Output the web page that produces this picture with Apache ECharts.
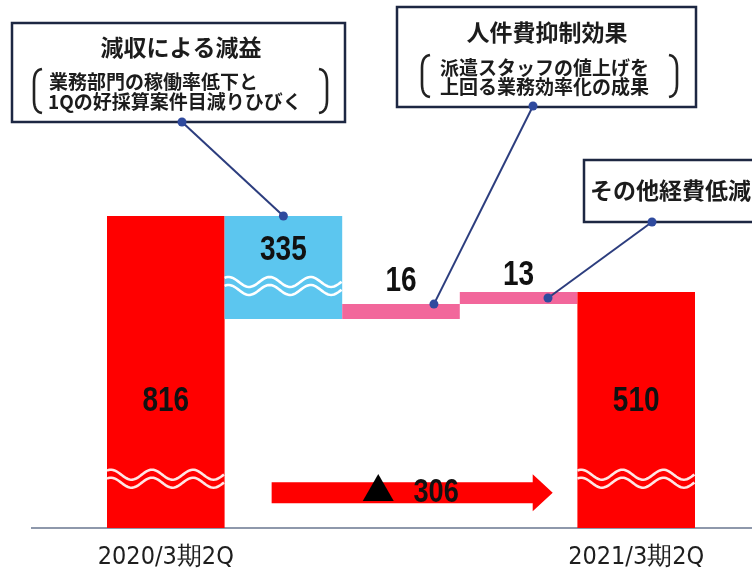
<!DOCTYPE html>
<html>
<head>
<meta charset="utf-8">
<script src="https://cdn.jsdelivr.net/npm/echarts@6/dist/echarts.min.js"></script>
<style>
  html, body { margin: 0; padding: 0; background: #fff; }
  #chart { width: 752px; height: 574px; }
</style>
</head>
<body>
<div id="chart"></div>
<script>
// Operating profit bridge: 2020/3期2Q -> 2021/3期2Q
const categories = ['2020/3期2Q', '減収による減益', '人件費抑制効果', 'その他経費低減', '2021/3期2Q'];
const startValue = 816;
const changes = [-335, 16, 13];
const endValue = 510;
const axisLabels = ['2020/3期2Q', '', '', '', '2021/3期2Q'];

// Callout texts
const calloutTitles = ['減収による減益', '人件費抑制効果', 'その他経費低減'];
const calloutLines = [
  ['業務部門の稼働率低下と', '1Qの好採算案件目減りひびく'],
  ['派遣スタッフの値上げを', '上回る業務効率化の成果'],
  []
];

// Compressed stretches of the value axis
const axisBreaks = [
  { start: 53, end: 309.3, gap: 0 },
  { start: 516.5, end: 740.8, gap: 0 }
];
// Which bar shows which break as a wave: [bar index, break index]
const waveMarks = [[0, 0], [1, 1], [4, 0]];

// ---- waterfall geometry from the values ----
const bases = [0];
const heights = [startValue];
let running = startValue;
changes.forEach(c => {
  const next = running + c;
  bases.push(Math.min(running, next));
  heights.push(Math.abs(c));
  running = next;
});
bases.push(0);
heights.push(endValue);

const RED = '#ff0000', BLUE = '#5cc6ef', PINK = '#f2679b';
const barColors = [RED, BLUE, PINK, PINK, RED];
// where each value label sits: fraction down the bar, or pixels above its top
const labelPlacement = [{ frac: 0.595 }, { frac: 0.33 }, { above: 23 }, { above: 17 }, { frac: 0.465 }];

const NUM_FONT = "'Liberation Sans', Arial, sans-serif";
const AXIS_FONT = "'DejaVu Sans Condensed', 'DejaVu Sans', sans-serif";
const JP_FONT = "'Noto Sans CJK JP', sans-serif";
const NUM_SQUEEZE = 0.8;

const chart = echarts.init(document.getElementById('chart'), null, { renderer: 'canvas' });

const option = {
  animation: false,
  backgroundColor: '#ffffff',
  grid: { left: 107, right: 57, top: 216, bottom: 46, outerBoundsMode: 'none' },
  xAxis: {
    type: 'category',
    data: categories,
    axisLine: { show: false },
    axisTick: { show: false },
    axisLabel: {
      interval: 0,
      margin: 17,
      fontFamily: AXIS_FONT,
      fontSize: 25,
      color: '#1e1e1e',
      formatter: (v, i) => axisLabels[i]
    }
  },
  yAxis: {
    type: 'value',
    min: 0,
    max: startValue,
    breaks: axisBreaks,
    breakArea: { show: false, itemStyle: { opacity: 0, borderWidth: 0 } },
    axisLine: { show: false },
    axisTick: { show: false },
    axisLabel: { show: false },
    splitLine: { show: false }
  },
  series: [
    {
      name: 'base',
      type: 'bar',
      stack: 'bridge',
      silent: true,
      barCategoryGap: 0,
      itemStyle: { color: 'transparent' },
      data: bases
    },
    {
      name: 'value',
      type: 'bar',
      stack: 'bridge',
      barCategoryGap: 0,
      data: heights.map((h, i) => ({ value: h, itemStyle: { color: barColors[i] } }))
    },
    {
      // wavy break marks drawn across the bars
      name: 'waves',
      type: 'custom',
      z: 3,
      silent: true,
      data: waveMarks.map(([bar, b]) => [bar, axisBreaks[b].start]),
      renderItem(params, api) {
        const bar = api.value(0);
        const c = api.coord([bar, api.value(1)]);
        const band = api.size([1, 0])[0];
        const left = c[0] - band / 2, right = c[0] + band / 2;
        const color = barColors[bar] === RED ? '#ffe6e4' : '#ffffff';
        const wave = off => {
          const pts = [];
          for (let x = left; x <= right + 0.1; x += 1.5) {
            pts.push([x, c[1] + off - 5 * Math.cos(2 * Math.PI * ((x - left) - 45) / 41)]);
          }
          return { type: 'polyline', shape: { points: pts }, style: { stroke: color, lineWidth: 2.6, fill: null } };
        };
        return { type: 'group', children: [wave(-4), wave(4)] };
      }
    },
    {
      // value labels on the bars (condensed digits)
      name: 'valueLabels',
      type: 'custom',
      z: 4,
      silent: true,
      data: heights.map((h, i) => [i, bases[i], bases[i] + h, h]),
      renderItem(params, api) {
        const i = api.value(0);
        const bot = api.coord([i, api.value(1)]);
        const top = api.coord([i, api.value(2)]);
        const pl = labelPlacement[i];
        const y = pl.frac != null ? top[1] + pl.frac * (bot[1] - top[1]) : top[1] - pl.above;
        return {
          type: 'text',
          x: top[0], y: y,
          scaleX: NUM_SQUEEZE,
          style: {
            text: String(api.value(3)),
            x: 0, y: 0,
            align: 'center', verticalAlign: 'middle',
            font: `bold 35px ${NUM_FONT}`,
            fill: '#111111'
          }
        };
      }
    },
    {
      // overall change arrow
      name: 'change',
      type: 'custom',
      z: 3,
      silent: true,
      data: [[1, 3, 38, startValue - endValue]],
      renderItem(params, api) {
        const a = api.coord([api.value(0), api.value(2)]);
        const b = api.coord([api.value(1), api.value(2)]);
        const band = api.size([1, 0])[0];
        const x0 = a[0] - 0.1 * band;
        const tip = b[0] + 0.29 * band;
        const y = a[1];
        const head = 20, sh = 10.5, hh = 18.5;
        const mid = (x0 + tip) / 2;
        const pts = [
          [x0, y - sh], [tip - head, y - sh], [tip - head, y - hh], [tip, y],
          [tip - head, y + hh], [tip - head, y + sh], [x0, y + sh]
        ];
        return {
          type: 'group',
          children: [
            { type: 'polygon', shape: { points: pts }, style: { fill: RED } },
            {
              type: 'text', x: mid - 34, y: y - 4,
              style: { text: '▲', x: 0, y: 0, align: 'center', verticalAlign: 'middle', font: `33px ${JP_FONT}`, fill: '#000' }
            },
            {
              type: 'text', x: mid + 24, y: y, scaleX: NUM_SQUEEZE,
              style: { text: String(api.value(3)), x: 0, y: 0, align: 'center', verticalAlign: 'middle', font: `bold 34px ${NUM_FONT}`, fill: '#111' }
            }
          ]
        };
      }
    }
  ]
};

chart.setOption(option);

// ---- callout boxes, connectors and base line ----
const px = (cat, val) => chart.convertToPixel({ xAxisIndex: 0, yAxisIndex: 0 }, [cat, val]);
const band = 588 / categories.length;

const LINE = '#2c3d7e', DOT = '#2f4a9e', BORDER = '#1d2742', INK = '#1c1c1c';

function bracket(x, top, bot, dir) {
  // tall parenthesis; dir = 1 opens right "(", -1 opens left ")"
  const d = 8 * dir;
  const pts = [];
  const q = (p0, p1, p2) => {
    for (let t = 0; t <= 1.0001; t += 0.125) {
      const u = 1 - t;
      pts.push([u * u * p0[0] + 2 * u * t * p1[0] + t * t * p2[0], u * u * p0[1] + 2 * u * t * p1[1] + t * t * p2[1]]);
    }
  };
  q([x + d, top], [x, top + 1], [x, top + 13]);
  q([x, bot - 13], [x, bot - 1], [x + d, bot]);
  return { type: 'polyline', shape: { points: pts }, style: { stroke: '#222', lineWidth: 2.6, fill: null }, z: 41 };
}

function connector(from, to) {
  return [
    { type: 'line', shape: { x1: from[0], y1: from[1], x2: to[0], y2: to[1] }, style: { stroke: LINE, lineWidth: 2 }, z: 50 },
    { type: 'circle', shape: { cx: from[0], cy: from[1], r: 4.5 }, style: { fill: DOT }, z: 51 },
    { type: 'circle', shape: { cx: to[0], cy: to[1], r: 4.5 }, style: { fill: DOT }, z: 51 }
  ];
}

const t1 = px(1, bases[1] + heights[1]);
const t2 = px(2, bases[2] + heights[2]);
const t3 = px(3, bases[3] + heights[3] / 2);
const base0 = px(0, 0);

const titleFont = `bold 23px ${JP_FONT}`;
const subFont = `bold 19px ${JP_FONT}`;
const txt = (text, x, y, font, align) => ({
  type: 'text', x, y, z: 41,
  style: { text, font, fill: INK, textAlign: align, textVerticalAlign: 'middle' }
});

const elements = [
  // base line
  { type: 'line', shape: { x1: 31, y1: base0[1], x2: 752, y2: base0[1] }, style: { stroke: '#8e98ab', lineWidth: 2 }, z: 1 },

  // box 1
  { type: 'rect', shape: { x: 12, y: 23, width: 333, height: 99 }, style: { fill: '#fff', stroke: BORDER, lineWidth: 2.5 }, z: 40 },
  txt(calloutTitles[0], 181, 47, titleFont, 'center'),
  txt(calloutLines[0][0], 49, 82, subFont, 'left'),
  txt(calloutLines[0][1], 48, 102, subFont, 'left'),
  bracket(34, 69, 113, 1),
  bracket(327, 69, 113, -1),

  // box 2
  { type: 'rect', shape: { x: 397, y: 7, width: 299, height: 100 }, style: { fill: '#fff', stroke: BORDER, lineWidth: 2.5 }, z: 40 },
  txt(calloutTitles[1], 547, 32, titleFont, 'center'),
  txt(calloutLines[1][0], 440, 68, subFont, 'left'),
  txt(calloutLines[1][1], 440, 87, subFont, 'left'),
  bracket(422, 55, 97, 1),
  bracket(677, 55, 97, -1),

  // box 3
  { type: 'rect', shape: { x: 584, y: 160, width: 200, height: 62 }, style: { fill: '#fff', stroke: BORDER, lineWidth: 2.5 }, z: 40 },
  txt(calloutTitles[2], 590, 190, titleFont, 'left')
]
  .concat(connector([182, 122], [t1[0], t1[1]]))
  .concat(connector([533, 106], [t2[0] + 0.28 * band, t2[1]]))
  .concat(connector([652, 222], [t3[0] + 0.25 * band, t3[1]]));

chart.setOption({ graphic: { elements } });
</script>
</body>
</html>
